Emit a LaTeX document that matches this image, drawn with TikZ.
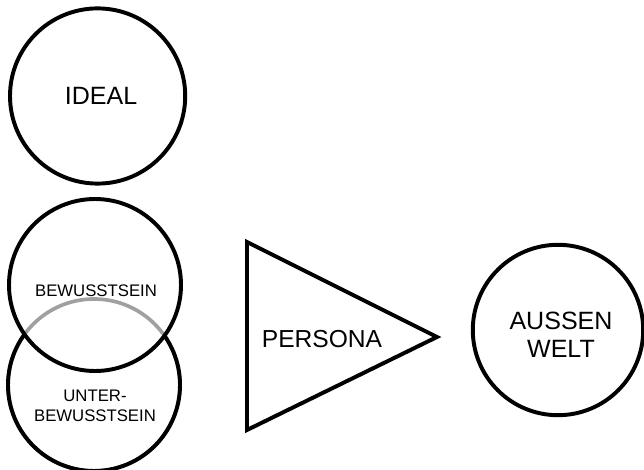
\documentclass[tikz,border=0pt]{standalone}
\usepackage{fontspec}
\setmainfont{Liberation Sans}
\usepackage{xcolor}
\usetikzlibrary{positioning,calc}
\definecolor{ringgray}{HTML}{A0A0A0}

\tikzset{
  ring/.style={draw=black,line width=2.8pt,circle,inner sep=0pt,minimum size=4.3cm,align=center},
  bigfont/.style={font=\fontsize{17.8}{20}\selectfont},
  smallfont/.style={font=\fontsize{11.9}{13.9}\selectfont,align=center}
}

\begin{document}
\begin{tikzpicture}
  \useasboundingbox (0,0) rectangle (16.1,11.75);

  % Ideal circle
  \node[ring,minimum size=4.38cm,bigfont] (ideal) at (2.44,9.35) {\hspace{5pt}IDEAL};

  % Unterbewusstsein circle (lower), grey where it lies inside the upper one
  \node[circle,inner sep=0pt,minimum size=4.3cm] (unter) at (2.35,2.125) {};
  \draw[ringgray,line width=2.6pt] (unter.center) circle (2.15cm);
  \begin{scope}[even odd rule]
    \clip (0,0) rectangle (16.1,11.75) (2.375,4.625) circle (2.15cm);
    \draw[line width=2.8pt] (unter.center) circle (2.15cm);
  \end{scope}
  \node[smallfont] (unterlabel) at (2.375,1.6) {UNTER-\\BEWUSSTSEIN};

  % Bewusstsein circle (upper)
  \node[ring] (bewusst) at (2.375,4.625) {};
  \node[smallfont] (bewusstlabel) at (2.4,4.475) {BEWUSSTSEIN};

  % Persona triangle
  \coordinate (ptop) at (6.175,5.7);
  \coordinate (pbot) at (6.175,1.0);
  \coordinate (ptip) at (10.925,3.325);
  \draw[line width=2.8pt,line join=miter] (ptop) -- (ptip) -- (pbot) -- cycle;
  \node[font=\fontsize{17.5}{20}\selectfont] (persona) at (8.05,3.275) {PERSONA};

  % Aussenwelt circle
  \node[ring,minimum size=4.26cm] (aussen) at (13.95,3.5) {};
  \node[align=center,font=\fontsize{17.8}{19.9}\selectfont] (aussenlabel) at (14.025,3.375) {AUSSEN\\WELT};
\end{tikzpicture}
\end{document}
